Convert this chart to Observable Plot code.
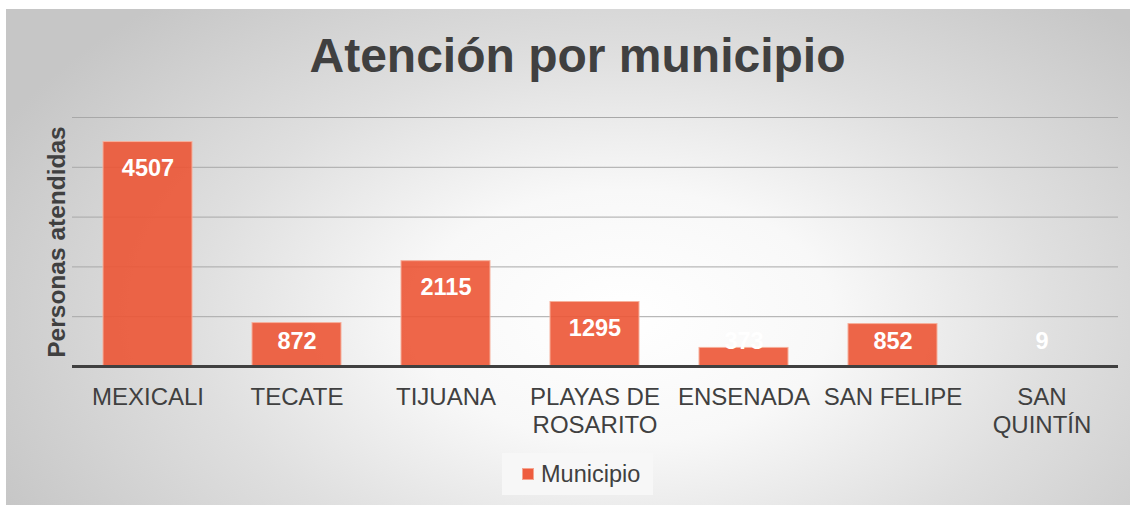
<!DOCTYPE html>
<html><head><meta charset="utf-8">
<script src="https://cdn.jsdelivr.net/npm/d3@7"></script>
<script src="https://cdn.jsdelivr.net/npm/@observablehq/plot@0.6"></script>
<style>
body{margin:0;background:#fff;font-family:"Liberation Sans",Arial,sans-serif;}
#wrap{position:relative;width:1137px;height:505px;overflow:hidden;background:#fff;}
#bg{position:absolute;left:6px;top:9px;width:1124px;height:496px;
  background:radial-gradient(ellipse 62% 85% at 55% 62%, #ffffff 0%, #f8f8f8 30%, #dfdfdf 62%, #c6c6c6 100%);}
#title{position:absolute;left:9px;width:1137px;top:32px;line-height:48px;text-align:center;font-weight:bold;font-size:48px;color:#404040;}
#chart{position:absolute;left:0;top:0;}
#legend{position:absolute;left:502px;top:453px;width:151px;height:42px;background:#f7f7f7;display:flex;align-items:center;}
#legend .sw{width:12px;height:12px;background:#ee5c3e;margin-left:20px;margin-right:7px;border:1px solid #f5a48f;box-sizing:border-box;}
#legend span{font-size:23.5px;color:#404040;}
</style></head>
<body>
<div id="wrap">
  <div id="bg"></div>
  <div id="title">Atención por municipio</div>
  <div id="chart"></div>
  <div id="legend"><div class="sw"></div><span>Municipio</span></div>
</div>
<script>
const categories = ["MEXICALI","TECATE","TIJUANA","PLAYAS DE\nROSARITO","ENSENADA","SAN FELIPE","SAN\nQUINTÍN"];
const values = [4507, 872, 2115, 1295, 373, 852, 9];
const gridTicks = [1000, 2000, 3000, 4000, 5000];
const yLabel = "Personas atendidas";

const data = categories.map((c, i) => ({cat: c, v: values[i]}));
const yMax = 5000;
const H = 505, mt = 117, mb = 139;
const pxPerUnit = (H - mt - mb) / yMax;
const labelY = d => Math.max(d.v - 26 / pxPerUnit, 25 / pxPerUnit);

const plot = Plot.plot({
  width: 1137, height: H,
  marginTop: mt, marginBottom: mb, marginLeft: 72, marginRight: 19,
  style: {background: "transparent", fontFamily: "'Liberation Sans', Arial, sans-serif", overflow: "visible"},
  x: {domain: categories, paddingInner: 0.4, paddingOuter: 0.2, axis: null, label: null},
  y: {domain: [0, yMax], axis: null},
  marks: [
    Plot.ruleY(gridTicks, {stroke: "#a8a8a8", strokeWidth: 1}),
    Plot.barY(data, {x: "cat", y: "v", fill: "#ec5535", fillOpacity: 0.9, stroke: "#f6b09c", strokeWidth: 1}),
    Plot.ruleY([0], {stroke: "#404040", strokeWidth: 3}),
    Plot.text(data, {x: "cat", y: labelY, text: d => String(d.v), fill: "white", fontSize: 23.5, fontWeight: "bold"}),
    Plot.axisX({tickSize: 0, tickPadding: 19, fontSize: 24, lineHeight: 1.15, fill: "#404040", label: null}),
    Plot.text([yLabel], {frameAnchor: "left", dx: -15, rotate: -90, textAnchor: "middle", fontSize: 24.5, fontWeight: "bold", fill: "#404040"})
  ]
});
document.getElementById("chart").appendChild(plot);
</script>
</body></html>
